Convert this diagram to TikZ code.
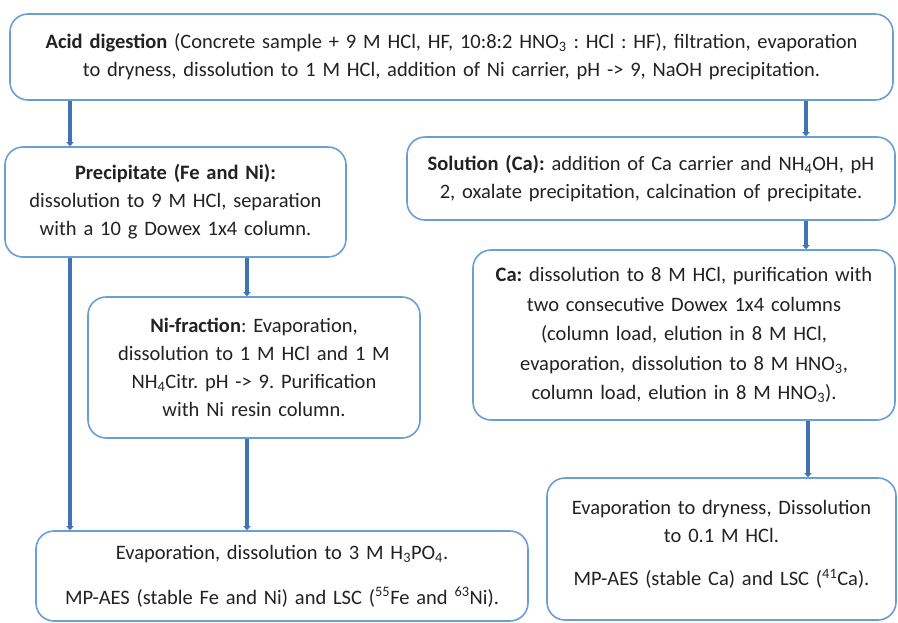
\documentclass[tikz,border=0pt]{standalone}
\usepackage{fontspec}
\setmainfont{Carlito}
\usetikzlibrary{arrows.meta}
\frenchspacing
\definecolor{boxc}{HTML}{6A9FD6}
\definecolor{arrc}{HTML}{4173B0}
\definecolor{txt}{HTML}{222222}
\tikzset{
  box/.style={draw=boxc, line width=1.6pt, rounded corners=18pt, fill=white,
    align=center, inner xsep=0pt, inner ysep=0pt,
    font=\fontsize{20.5}{28}\selectfont, text=txt},
  arr/.style={draw=arrc, line width=3.5pt, -{Triangle[width=7pt,length=4pt]}},
}
\begin{document}
\begin{tikzpicture}[x=1pt,y=-1pt]
\useasboundingbox[fill=white] (0,0) rectangle (898,622);

\node[box, text width=883pt, minimum height=86pt] (top) at (451.5,57)
 {\textbf{Acid digestion} (Concrete sample + 9 M HCl, HF, 10:8:2 HNO\textsubscript{3} : HCl : HF), filtration, evaporation\\
  to dryness, dissolution to 1 M HCl, addition of Ni carrier, pH -> 9, NaOH precipitation.};

\node[box, text width=341pt, minimum height=110pt] (prec) at (175.5,202)
 {\textbf{Precipitate (Fe and Ni):}\\ dissolution to 9 M HCl, separation\\ with a 10 g Dowex 1x4 column.};

\node[box, text width=488pt, minimum height=83pt] (sol) at (651,178.5)
 {\textbf{Solution (Ca):} addition of Ca carrier and NH\textsubscript{4}OH, pH\\ 2, oxalate precipitation, calcination of precipitate.};

\node[box, text width=332pt, minimum height=141pt] (ni) at (254,367.5)
 {\textbf{Ni-fraction}: Evaporation,\\ dissolution to 1 M HCl and 1 M\\ NH\textsubscript{4}Citr. pH -> 9. Purification\\ with Ni resin column.};

\node[box, text width=422pt, minimum height=170pt, font=\fontsize{20.5}{29.5}\selectfont] (ca) at (684,335)
 {\textbf{Ca:} dissolution to 8 M HCl, purification with\\ two consecutive Dowex 1x4 columns\\ (column load, elution in 8 M HCl,\\ evaporation, dissolution to 8 M HNO\textsubscript{3},\\ column load, elution in 8 M HNO\textsubscript{3}).};

\node[box, text width=492pt, minimum height=90pt] (bl) at (282,576)
 {Evaporation, dissolution to 3 M H\textsubscript{3}PO\textsubscript{4}.\\[17pt]
  MP-AES (stable Fe and Ni) and LSC (\textsuperscript{55}Fe and \textsuperscript{63}Ni).};

\node[box, text width=349pt, minimum height=142pt] (br) at (721.5,549)
 {Evaporation to dryness, Dissolution\\ to 0.1 M HCl.\\[15pt]
  MP-AES (stable Ca) and LSC (\textsuperscript{41}Ca).\\[-16pt]\mbox{}};

\coordinate (xa) at (70,0);
\coordinate (xb) at (247,0);
\coordinate (xc) at (806,0);
\coordinate (xd) at (808,0);

\draw[arr] (top.south -| xa) -- (prec.north -| xa);
\draw[arr] (top.south -| xc) -- (sol.north -| xc);
\draw[arr] (prec.south -| xa) -- (bl.north -| xa);
\draw[arr] (prec.south -| xb) -- (ni.north -| xb);
\draw[arr] (ni.south -| xb) -- (bl.north -| xb);
\draw[arr] (sol.south -| xc) -- (ca.north -| xc);
\draw[arr] (ca.south -| xd) -- (br.north -| xd);
\end{tikzpicture}
\end{document}
